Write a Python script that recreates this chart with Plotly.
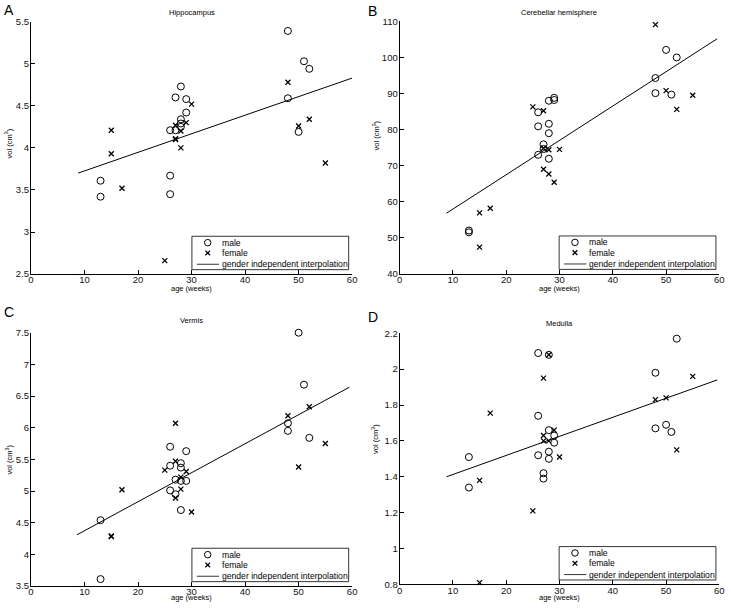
import plotly.graph_objects as go

W, H = 731, 611

# ---------------- data ----------------
male_age = [13, 13, 26, 26, 26, 27, 27, 28, 28, 28, 28, 29, 29, 48, 48, 50, 51, 52]
female_age = [15, 15, 17, 25, 27, 27, 27, 28, 28, 29, 30, 48, 50, 52, 55]

# A: Hippocampus
hip_male_vol = [3.61, 3.42, 3.67, 3.45, 4.21, 4.60, 4.21, 4.73, 4.34, 4.29, 4.25,
                4.58, 4.42, 5.39, 4.59, 4.19, 5.03, 4.94]
hip_female_vol = [4.21, 3.93, 3.52, 2.66, 4.27, 4.11, 4.10, 4.20, 4.00, 4.30, 4.52,
                  4.78, 4.26, 4.34, 3.82]
hip_fit_age = [8.8, 60.0]
hip_fit_vol = [3.70, 4.83]

# B: Cerebellar hemisphere
cer_male_vol = [52.0, 51.5, 84.8, 80.9, 73.0, 75.9, 74.6, 88.0, 81.6, 79.0, 71.9,
                88.8, 88.2, 94.3, 90.1, 102.1, 89.7, 100.0]
cer_female_vol = [56.9, 47.4, 58.2, 86.3, 85.2, 69.0, 74.8, 74.4, 67.7, 65.4, 74.5,
                  109.1, 90.8, 85.6, 89.5]
cer_fit_age = [8.8, 59.6]
cer_fit_vol = [56.8, 105.2]

# C: Vermis
ver_male_vol = [4.54, 3.61, 5.70, 5.40, 5.01, 5.18, 4.95, 5.44, 5.37, 5.16, 4.70,
                5.63, 5.16, 6.07, 5.95, 7.50, 6.68, 5.84]
ver_female_vol = [4.29, 4.28, 5.02, 5.33, 6.07, 5.47, 4.89, 5.22, 5.03, 5.31, 4.67,
                  6.19, 5.38, 6.33, 5.75]
ver_fit_age = [8.6, 59.5]
ver_fit_vol = [4.31, 6.64]

# D: Medulla
med_male_vol = [1.51, 1.34, 2.09, 1.74, 1.52, 1.42, 1.39, 2.08, 1.66, 1.54, 1.50,
                1.63, 1.59, 1.98, 1.67, 1.69, 1.65, 2.17]
med_female_vol = [1.38, 0.81, 1.755, 1.21, 1.95, 1.63, 1.60, 2.08, 1.60, 1.66, 1.51,
                  1.83, 1.84, 1.55, 1.96]
med_fit_age = [8.8, 59.6]
med_fit_vol = [1.40, 1.94]

x_ticks = [0, 10, 20, 30, 40, 50, 60]
hip_y_ticks = [2.5, 3, 3.5, 4, 4.5, 5, 5.5]
hip_y_labels = ["2.5", "3", "3.5", "4", "4.5", "5", "5.5"]
cer_y_ticks = [40, 50, 60, 70, 80, 90, 100, 110]
cer_y_labels = ["40", "50", "60", "70", "80", "90", "100", "110"]
ver_y_ticks = [3.5, 4, 4.5, 5, 5.5, 6, 6.5, 7, 7.5]
ver_y_labels = ["3.5", "4", "4.5", "5", "5.5", "6", "6.5", "7", "7.5"]
med_y_ticks = [0.8, 1.0, 1.2, 1.4, 1.6, 1.8, 2.0, 2.2]
med_y_labels = ["0.8", "1", "1.2", "1.4", "1.6", "1.8", "2", "2.2"]

legend_labels = ["male", "female", "gender independent interpolation"]

FONT = "Liberation Sans, Arial, sans-serif"

panels = [
    dict(letter="A", title="Hippocampus", male=hip_male_vol, female=hip_female_vol,
         fx=hip_fit_age, fy=hip_fit_vol, yr=[2.5, 5.5], yt=hip_y_ticks, yl=hip_y_labels,
         box=(28.3, 353.0, 16.0, 273.0), letter_pos=(-1.5, 4.0), title_y=7.0,
         xlab_y=287.5, ylab=(6.0, 140.0)),
    dict(letter="B", title="Cerebellar hemisphere", male=cer_male_vol, female=cer_female_vol,
         fx=cer_fit_age, fy=cer_fit_vol, yr=[40, 110], yt=cer_y_ticks, yl=cer_y_labels,
         box=(401.0, 724.3, 15.7, 272.7), letter_pos=(367.0, 5.0), title_y=7.0,
         xlab_y=288.0, ylab=(377.0, 132.0)),
    dict(letter="C", title="Vermis", male=ver_male_vol, female=ver_female_vol,
         fx=ver_fit_age, fy=ver_fit_vol, yr=[3.5, 7.5], yt=ver_y_ticks, yl=ver_y_labels,
         box=(28.3, 353.0, 332.7, 590.7), letter_pos=(-1.5, 312.0), title_y=320.5,
         xlab_y=602.5, ylab=(6.0, 462.0)),
    dict(letter="D", title="Medulla", male=med_male_vol, female=med_female_vol,
         fx=med_fit_age, fy=med_fit_vol, yr=[0.8, 2.2], yt=med_y_ticks, yl=med_y_labels,
         box=(401.0, 724.3, 333.3, 589.0), letter_pos=(367.0, 317.0), title_y=323.5,
         xlab_y=602.0, ylab=(376.0, 441.0)),
]


def px(x):
    return x / W


def py(y):
    return 1 - y / H


fig = go.Figure()
layout = dict(
    width=W, height=H, margin=dict(l=0, r=0, t=0, b=0),
    paper_bgcolor="white", plot_bgcolor="white", showlegend=False,
    font=dict(family=FONT, color="black"),
)
annotations = []
shapes = []

for i, p in enumerate(panels):
    n = i + 1
    xa = "x" if n == 1 else f"x{n}"
    ya = "y" if n == 1 else f"y{n}"
    left, right, top, bottom = p["box"]
    axis_common = dict(showline=True, linecolor="black", linewidth=1, ticks="inside",
                       ticklen=4, tickwidth=1, tickcolor="black", showgrid=False,
                       zeroline=False, mirror=False,
                       tickfont=dict(size=9.5, family=FONT, color="#111"))
    layout["xaxis" if n == 1 else f"xaxis{n}"] = dict(
        domain=[px(left), px(right)], range=[0, 60], anchor=ya,
        tickvals=x_ticks, ticktext=[str(v) for v in x_ticks],
        ticklabelstandoff=-3, **axis_common)
    layout["yaxis" if n == 1 else f"yaxis{n}"] = dict(
        domain=[py(bottom), py(top)], range=p["yr"], anchor=xa,
        tickvals=p["yt"], ticktext=p["yl"], ticklabelstandoff=-1, **axis_common)

    fig.add_trace(go.Scatter(x=male_age, y=p["male"], mode="markers", xaxis=xa, yaxis=ya,
                             cliponaxis=False, hoverinfo="skip",
                             marker=dict(symbol="circle-open", size=7, color="black",
                                         line=dict(width=1, color="black"))))
    fig.add_trace(go.Scatter(x=female_age, y=p["female"], mode="markers", xaxis=xa, yaxis=ya,
                             cliponaxis=False, hoverinfo="skip",
                             marker=dict(symbol="x-thin", size=5, color="black",
                                         line=dict(width=1.3, color="black"))))
    fig.add_trace(go.Scatter(x=p["fx"], y=p["fy"], mode="lines", xaxis=xa, yaxis=ya,
                             hoverinfo="skip", line=dict(color="black", width=1)))

    cx = (left + right) / 2
    # panel letter
    annotations.append(dict(text=p["letter"], x=px(p["letter_pos"][0]), y=py(p["letter_pos"][1]),
                            xref="paper", yref="paper", xanchor="left", yanchor="middle",
                            showarrow=False, font=dict(size=14, family=FONT, color="black")))
    # title
    annotations.append(dict(text=p["title"], x=px(cx), y=py(p["title_y"]), xref="paper",
                            yref="paper", xanchor="center", yanchor="middle", showarrow=False,
                            font=dict(size=7.5, family=FONT, color="black")))
    # x label
    annotations.append(dict(text="age (weeks)", x=px(cx), y=py(p["xlab_y"]), xref="paper",
                            yref="paper", xanchor="center", yanchor="middle", showarrow=False,
                            font=dict(size=7.5, family=FONT, color="black")))
    # y label
    annotations.append(dict(text="vol (cm<sup>3</sup>)", x=px(p["ylab"][0]), y=py(p["ylab"][1]),
                            xref="paper", yref="paper", xanchor="center", yanchor="middle",
                            textangle=-90, showarrow=False,
                            font=dict(size=7.5, family=FONT, color="black")))

    # legend box (manual, compact like the original)
    lr = right - 3.5
    lb = bottom - 4.5
    ll = lr - 158.5
    lt = lb - 34
    shapes.append(dict(type="rect", xref="paper", yref="paper", x0=px(ll), x1=px(lr),
                       y0=py(lb), y1=py(lt), line=dict(color="black", width=0.8),
                       fillcolor="white", layer="above"))
    rows = [lt + 6.5, lt + 17.0, lt + 28.5]
    kx = ll + 16
    r = 3.3
    shapes.append(dict(type="circle", xref="paper", yref="paper", x0=px(kx - r), x1=px(kx + r),
                       y0=py(rows[0] + r), y1=py(rows[0] - r),
                       line=dict(color="black", width=1), layer="above"))
    s = 2.4
    for sgn in (1, -1):
        shapes.append(dict(type="line", xref="paper", yref="paper", x0=px(kx - s), x1=px(kx + s),
                           y0=py(rows[1] - sgn * s), y1=py(rows[1] + sgn * s),
                           line=dict(color="black", width=1.3), layer="above"))
    shapes.append(dict(type="line", xref="paper", yref="paper", x0=px(ll + 5), x1=px(ll + 27.5),
                       y0=py(rows[2]), y1=py(rows[2]), line=dict(color="black", width=0.8),
                       layer="above"))
    for lab, ry in zip(legend_labels, rows):
        annotations.append(dict(text=lab, x=px(ll + 28.5), y=py(ry), xref="paper", yref="paper",
                                xanchor="left", yanchor="middle", showarrow=False,
                                font=dict(size=8.6, family=FONT, color="black")))

layout["annotations"] = annotations
layout["shapes"] = shapes
fig.update_layout(**layout)
fig.write_html("out.html", config={"displayModeBar": False},
               post_script="document.body.style.margin='0';document.body.style.overflow='hidden';")
